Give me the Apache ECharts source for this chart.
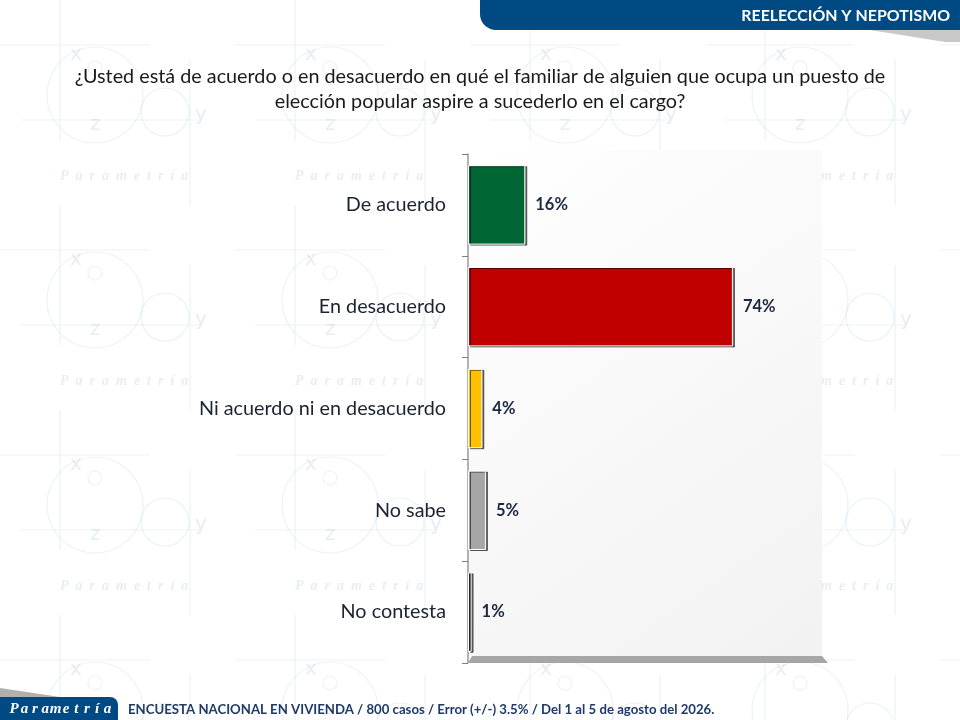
<!DOCTYPE html>
<html>
<head>
<meta charset="utf-8">
<title>Reelección y nepotismo</title>
<script src="https://cdn.jsdelivr.net/npm/echarts@6/dist/echarts.min.js"></script>
<style>
  html, body { margin: 0; padding: 0; background: #fff; }
  #chart { width: 960px; height: 720px; }
</style>
</head>
<body>
<div id="chart"></div>
<script>
// survey answers, top to bottom
const categories = ['De acuerdo', 'En desacuerdo', 'Ni acuerdo ni en desacuerdo', 'No sabe', 'No contesta'];
const values = [16, 74, 4, 5, 1];
const barColors = ['#006633', '#c00000', '#ffc000', '#a6a6a6', '#262626'];

const question = '¿Usted está de acuerdo o en desacuerdo en qué el familiar de alguien que ocupa un puesto de\nelección popular aspire a sucederlo en el cargo?';
const sectionTitle = 'REELECCIÓN Y NEPOTISMO';
const footnote = 'ENCUESTA NACIONAL EN VIVIENDA / 800 casos / Error (+/-) 3.5% / Del 1 al 5 de agosto del 2026.';
const brand = 'Parametría';

const FONT = 'Lato, "Open Sans", sans-serif';

// light watermark tile, drawn once and repeated behind the page
function watermarkTile() {
  const c = document.createElement('canvas');
  c.width = 235; c.height = 205;
  const g = c.getContext('2d');
  g.strokeStyle = 'rgba(175,196,212,0.22)';
  g.fillStyle = 'rgba(175,196,212,0.3)';
  g.lineWidth = 1.2;
  g.beginPath();
  g.moveTo(60, 0); g.lineTo(60, 140);
  g.moveTo(0, 45); g.lineTo(150, 45);
  g.moveTo(20, 120); g.lineTo(200, 120);
  g.moveTo(190, 60); g.lineTo(190, 205);
  g.stroke();
  g.beginPath(); g.arc(95, 95, 48, 0, Math.PI * 2); g.stroke();
  g.beginPath(); g.arc(95, 68, 7, 0, Math.PI * 2); g.stroke();
  g.beginPath(); g.arc(165, 112, 24, 0, Math.PI * 2); g.stroke();
  g.font = '20px "DejaVu Sans", sans-serif';
  g.fillText('x', 70, 60);
  g.fillText('z', 90, 130);
  g.fillText('y', 195, 120);
  g.font = 'italic bold 14px "Liberation Serif", serif';
  g.fillText('P  a  r  a  m  e  t  r  í  a', 60, 180);
  return c;
}

const chart = echarts.init(document.getElementById('chart'));

chart.setOption({
  backgroundColor: { image: watermarkTile(), repeat: 'repeat' },
  animation: false,
  title: {
    text: question,
    left: 'center',
    top: 59,
    textStyle: { fontFamily: FONT, fontSize: 19.8, fontWeight: 'normal', color: '#1a1a1a', lineHeight: 25 }
  },
  grid: { left: 468, right: 134, top: 154, bottom: 57, containLabel: false },
  xAxis: {
    type: 'value', min: 0, max: 100,
    show: false
  },
  yAxis: {
    type: 'category',
    data: categories,
    inverse: true,
    axisLine: { show: true, lineStyle: { color: '#9a9a9a', width: 1.5 } },
    axisTick: { show: true, length: 6, lineStyle: { color: '#7f7f7f' } },
    axisLabel: { fontFamily: FONT, fontSize: 19.8, color: '#1b2230', margin: 22 }
  },
  series: [{
    type: 'bar',
    barWidth: '78%',
    data: values.map((v, i) => ({ value: v, itemStyle: { color: barColors[i] } })),
    itemStyle: {
      borderColor: '#ffffff', borderWidth: 1,
      shadowColor: 'rgba(0,0,0,0.55)', shadowOffsetX: 2, shadowOffsetY: 1, shadowBlur: 0
    },
    label: {
      show: true, position: 'right', distance: 10,
      formatter: p => p.value + '%',
      fontFamily: FONT, fontSize: 16.5, fontWeight: 'bold', color: '#1c2840'
    }
  }]
});

// plot wall, floor and page frame, placed from the axes
const x0 = chart.convertToPixel({ xAxisIndex: 0 }, 0);
const x100 = chart.convertToPixel({ xAxisIndex: 0 }, 100);
const yTop = 154, yBottom = 720 - 57;

chart.setOption({
  graphic: [
    {
      type: 'rect', z: -10, silent: true,
      shape: { x: x0, y: yTop - 4, width: x100 - x0 - 4, height: yBottom - yTop - 3 },
      style: {
        fill: new echarts.graphic.LinearGradient(0, 0, 1, 1, [
          { offset: 0, color: '#ffffff' }, { offset: 1, color: '#f2f2f2' }
        ])
      }
    },
    {
      type: 'polygon', z: -9, silent: true,
      shape: { points: [[x0, yBottom], [x0 + 4, yBottom - 7], [x100 - 4, yBottom - 7], [x100 + 2, yBottom]] },
      style: { fill: '#a6a6a6' }
    },
    // header banner
    {
      type: 'polygon', silent: true,
      shape: { points: [[870, 30], [960, 30], [960, 42], [945, 42]] },
      style: { fill: '#c8c8c8' }
    },
    {
      type: 'rect', silent: true,
      shape: { x: 480, y: -10, width: 490, height: 40, r: [0, 0, 0, 16] },
      style: { fill: '#004a84' }
    },
    {
      type: 'text', silent: true,
      style: {
        text: sectionTitle, x: 950, y: 16, align: 'right', verticalAlign: 'middle',
        fontFamily: FONT, fontSize: 15.9, fontWeight: 'bold', fill: '#ffffff'
      }
    },
    // footer logo and note
    {
      type: 'polygon', silent: true,
      shape: { points: [[0, 688], [60, 697], [0, 697]] },
      style: { fill: '#b0b0b0' }
    },
    {
      type: 'rect', silent: true,
      shape: { x: -10, y: 697, width: 128, height: 30, r: [0, 8, 0, 0] },
      style: { fill: '#004a84' }
    },
    ...brand.split('').map((ch, i) => ({
      type: 'text', silent: true,
      style: {
        text: ch, x: 14 + i * 10.4, y: 709, align: 'center', verticalAlign: 'middle',
        fontFamily: '"Liberation Serif", serif', fontStyle: 'italic', fontWeight: 'bold',
        fontSize: 15, fill: '#ffffff'
      }
    })),
    {
      type: 'text', silent: true,
      style: {
        text: footnote, x: 128, y: 710, verticalAlign: 'middle',
        fontFamily: FONT, fontSize: 13.2, fontWeight: 'bold', fill: '#1f3a68'
      }
    }
  ]
});
</script>
</body>
</html>
